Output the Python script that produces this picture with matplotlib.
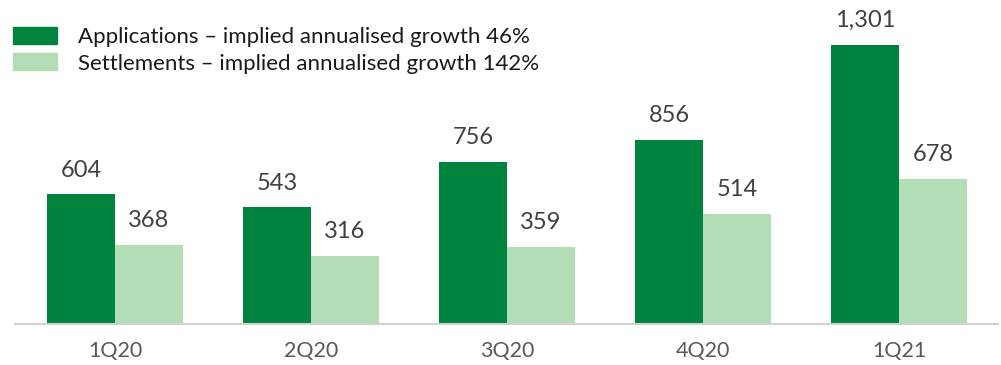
import numpy as np
import matplotlib.pyplot as plt
from matplotlib.patches import Patch

# data
quarters = ['1Q20', '2Q20', '3Q20', '4Q20', '1Q21']
applications = [604, 543, 756, 856, 1301]
settlements = [368, 316, 359, 514, 678]
legend_labels = ['Applications \u2013 implied annualised growth 46%',
                 'Settlements \u2013 implied annualised growth 142%']

dark = '#00843D'
light = '#B3DDB5'

plt.rcParams['font.family'] = ['Lato', 'DejaVu Sans']

fig = plt.figure(figsize=(10.01, 3.65), dpi=100)
ax = fig.add_axes([15/1001, 41/365, 983/1001, 324/365])

x = np.arange(len(quarters))
w = 0.347
b1 = ax.bar(x - w/2, applications, w, color=dark)
b2 = ax.bar(x + w/2, settlements, w, color=light)

for bars in (b1, b2):
    for r in bars:
        ax.annotate(f'{int(r.get_height()):,}', (r.get_x() + r.get_width()/2, r.get_height()),
                    xytext=(0, 10), textcoords='offset points', ha='center', va='bottom',
                    fontsize=17, color='#404040')

ax.set_xlim(-0.51, 4.505)
ax.set_ylim(0, 1510)
ax.set_xticks(x)
ax.set_xticklabels(quarters, fontsize=15.5, color='#595959')
ax.tick_params(axis='x', length=0, pad=12)
ax.set_yticks([])
for s in ['top', 'right', 'left']:
    ax.spines[s].set_visible(False)
ax.spines['bottom'].set_color('#D0D0D0')
ax.spines['bottom'].set_linewidth(1.5)

handles = [Patch(color=dark), Patch(color=light)]
fig.legend(handles, legend_labels, loc='upper left', bbox_to_anchor=(13/1001, 1 - 27/365),
           frameon=False, fontsize=16, handlelength=1.98, handleheight=0.81,
           handletextpad=0.94, labelspacing=0.27, borderpad=0, borderaxespad=0,
           labelcolor='#1a1a1a')

fig.savefig('out.png', dpi=100)
